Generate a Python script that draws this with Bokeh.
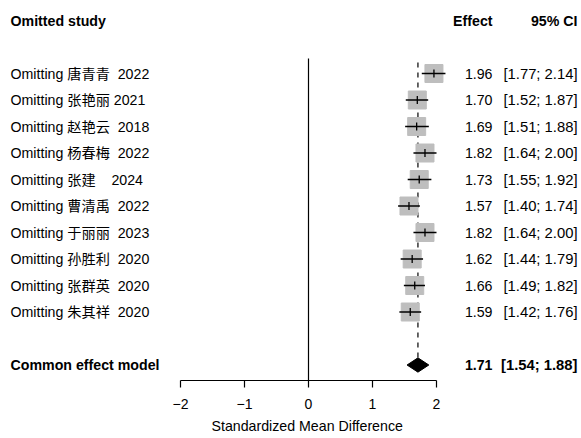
import math
from bokeh.plotting import figure
from bokeh.models import Range1d, FixedTicker, Title, ColumnDataSource
from bokeh.core.properties import value
from bokeh.embed import file_html
from bokeh.resources import INLINE

# ---------------- data ----------------
NB = "\u00a0"
studies = [
    "Omitting 唐青青" + NB * 2 + "2022",
    "Omitting 张艳丽" + NB + "2021",
    "Omitting 赵艳云" + NB * 2 + "2018",
    "Omitting 杨春梅" + NB * 2 + "2022",
    "Omitting 张建" + NB * 4 + "2024",
    "Omitting 曹清禹" + NB * 2 + "2022",
    "Omitting 于丽丽" + NB * 2 + "2023",
    "Omitting 孙胜利" + NB * 2 + "2020",
    "Omitting 张群英" + NB * 2 + "2020",
    "Omitting 朱其祥" + NB * 2 + "2020",
]
effect = [1.96, 1.70, 1.69, 1.82, 1.73, 1.57, 1.82, 1.62, 1.66, 1.59]
lower = [1.77, 1.52, 1.51, 1.64, 1.55, 1.40, 1.64, 1.44, 1.49, 1.42]
upper = [2.14, 1.87, 1.88, 2.00, 1.92, 1.74, 2.00, 1.79, 1.82, 1.76]

pooled_label = "Common effect model"
pooled_effect = 1.71
pooled_lower = 1.54
pooled_upper = 1.88

header_study = "Omitted study"
header_effect = "Effect"
header_ci = "95% CI"
x_title = "Standardized Mean Difference"
x_ticks = [-2, -1, 0, 1, 2]
x_tick_labels = ["\u22122", "\u22121", "0", "1", "2"]

# ---------------- layout ----------------
W, H = 581, 438
FONT = "'Liberation Sans', 'Noto Sans CJK SC', sans-serif"
PX0 = 308.0      # pixel of x = 0
PXU = 64.0       # pixels per unit
ROW0 = 73.0      # pixel of first row
ROWH = 26.5      # pixels per row
AXIS_PX = 380.0  # pixel of axis line (frame bottom)

def xd(px):
    return (px - PX0) / PXU

def yd(px):
    return (px - ROW0) / ROWH

n = len(studies)
rows = list(range(n))
pooled_row = n + 1
header_row = -2

p = figure(width=W, height=H, output_backend="svg", toolbar_location=None,
           title=None, x_range=Range1d(xd(0), xd(W)),
           y_range=Range1d(yd(AXIS_PX), yd(0)), y_axis_location=None,
           min_border_left=0, min_border_right=0, min_border_top=0,
           min_border_bottom=int(H - AXIS_PX))
p.outline_line_color = None
p.grid.visible = False
p.background_fill_color = "white"
p.border_fill_color = "white"

# x axis
ax = p.xaxis[0]
ax.bounds = (-2, 2)
ax.ticker = FixedTicker(ticks=x_ticks)
ax.major_label_overrides = {t: l for t, l in zip(x_ticks, x_tick_labels)}
ax.minor_tick_line_color = None
ax.major_tick_in = 0
ax.major_tick_out = 7
ax.axis_line_color = "black"
ax.major_tick_line_color = "black"
ax.axis_line_width = 1.2
ax.major_tick_line_width = 1.2
ax.major_label_text_font = FONT
ax.major_label_text_font_size = "14px"
ax.major_label_text_color = "black"
ax.major_label_standoff = 11

t = Title(text=x_title, align="left", vertical_align="bottom", offset=211,
          standoff=9, text_font=FONT, text_font_size="14.2px",
          text_font_style="normal", text_color="black")
p.add_layout(t, "below")

# reference lines
p.segment(x0=[0], y0=[yd(58)], x1=[0], y1=[yd(AXIS_PX)],
          line_color="black", line_width=1.2)
p.segment(x0=[pooled_effect], y0=[yd(62)], x1=[pooled_effect],
          y1=[pooled_row - 0.27], line_color="black", line_width=1.2,
          line_dash="5 5")

src = ColumnDataSource(dict(y=rows, est=effect, lo=lower, hi=upper,
                            lab=studies,
                            etxt=[f"{v:.2f}" for v in effect],
                            ctxt=[f"[{a:.2f}; {b:.2f}]" for a, b in zip(lower, upper)]))

# squares
p.scatter(x="est", y="y", source=src, marker="square", size=18,
          fill_color="#bebebe", line_color="#bebebe")
# CI lines
p.segment(x0="lo", y0="y", x1="hi", y1="y", source=src,
          line_color="black", line_width=1.3)
# estimate ticks
p.scatter(x="est", y="y", source=src, marker="dash", angle=math.pi / 2,
          size=8, line_color="black", line_width=1.3)

# pooled diamond
p.patch(x=[pooled_lower, pooled_effect, pooled_upper, pooled_effect],
        y=[pooled_row, pooled_row - 0.27, pooled_row, pooled_row + 0.27],
        fill_color="black", line_color="black")

# texts
common = dict(text_font=value(FONT), text_font_size="14.2px",
              text_baseline="middle", text_color="black")
ci_font = dict(common, text_font_size="14.8px")
p.text(x=xd(10), y="y", text="lab", source=src, text_align="left", **common)
p.text(x=xd(492), y="y", text="etxt", source=src, text_align="right", **common)
p.text(x=xd(577), y="y", text="ctxt", source=src, text_align="right", **ci_font)

bold = dict(common, text_font_style="bold")
bold_ci = dict(ci_font, text_font_style="bold")
p.text(x=[xd(10)], y=[header_row], text=[header_study], text_align="left", **bold)
p.text(x=[xd(492)], y=[header_row], text=[header_effect], text_align="right", **bold)
p.text(x=[xd(577)], y=[header_row], text=[header_ci], text_align="right", **bold)

p.text(x=[xd(10)], y=[pooled_row], text=[pooled_label], text_align="left", **bold)
p.text(x=[xd(492)], y=[pooled_row], text=[f"{pooled_effect:.2f}"], text_align="right", **bold)
p.text(x=[xd(577)], y=[pooled_row],
       text=[f"[{pooled_lower:.2f}; {pooled_upper:.2f}]"], text_align="right", **bold_ci)

open("out.html", "w").write(file_html(p, INLINE))
